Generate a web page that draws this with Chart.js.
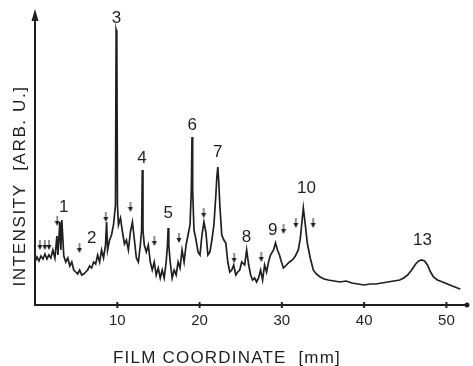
<!DOCTYPE html>
<html>
<head>
<meta charset="utf-8">
<script src="https://cdn.jsdelivr.net/npm/chart.js@4/dist/chart.umd.min.js"></script>
<style>
  html, body { margin: 0; padding: 0; background: #fff; }
  #wrap { width: 473px; height: 366px; position: relative; }
</style>
</head>
<body>
<div id="wrap"><canvas id="chart"></canvas></div>
<script>
// film coordinate (mm) of each trace sample
const filmMm = [
  0.00, 0.24, 0.48, 0.72, 0.97, 1.21, 1.45, 1.69, 1.93, 2.17, 2.42, 2.66, 2.78, 3.02, 3.14, 3.26, 3.50, 3.74, 3.99,
  4.23, 4.47, 4.71, 4.95, 5.19, 5.43, 5.68, 5.92, 6.16, 6.40, 6.64, 6.88, 7.13, 7.37, 7.61, 7.85, 8.09, 8.33,
  8.57, 8.70, 8.82, 9.06, 9.30, 9.54, 9.78, 9.86, 9.94, 10.02, 10.14, 10.39, 10.63, 10.87, 11.11, 11.35, 11.59, 11.84,
  12.08, 12.32, 12.56, 12.80, 12.96, 13.04, 13.12, 13.28, 13.53, 13.77, 14.01, 14.25, 14.49, 14.73, 14.98, 15.22, 15.46, 15.70,
  15.94, 16.10, 16.18, 16.26, 16.43, 16.67, 16.91, 17.15, 17.39, 17.63, 17.87, 18.12, 18.36, 18.60, 18.84, 19.00, 19.08, 19.16, 19.32, 19.57,
  19.81, 20.05, 20.29, 20.53, 20.77, 21.01, 21.26, 21.50, 21.74, 21.98, 22.10, 22.22, 22.34, 22.46, 22.70, 22.95, 23.19, 23.43,
  23.67, 23.91, 24.15, 24.40, 24.64, 24.88, 25.12, 25.48, 25.72, 25.97, 26.21, 26.45, 26.69, 26.93, 27.17, 27.42,
  27.66, 27.90, 28.14, 28.38, 28.62, 28.99, 29.23, 29.47, 29.71, 29.95, 30.19, 30.56, 30.92, 31.28, 31.64, 32.00,
  32.25, 32.61, 32.85, 33.09, 33.45, 33.82, 34.18, 34.66, 35.14, 35.63, 36.35, 37.08, 37.80, 38.53, 39.25, 39.98,
  40.70, 41.43, 42.15, 42.87, 43.60, 44.32, 44.81, 45.29, 45.77, 46.26, 46.62, 46.98, 47.34, 47.70, 48.07, 48.43,
  48.91, 49.52, 50.12, 50.72, 51.33, 51.69
];
// intensity (arbitrary units) at each sample
const intensity = [
  43, 48, 44, 49, 46, 51, 46, 50, 47, 55, 47, 69, 50, 83, 55, 85, 49, 43, 47,
  39, 43, 35, 33, 31, 35, 30, 31, 33, 35, 39, 37, 43, 41, 50, 43, 55, 47,
  60, 83, 55, 65, 70, 80, 100, 275, 272, 100, 80, 87, 73, 61, 65, 55, 73, 83,
  65, 47, 43, 60, 75, 135, 75, 60, 53, 60, 43, 35, 43, 30, 37, 27, 35, 27,
  43, 60, 77, 60, 43, 27, 35, 30, 43, 37, 55, 43, 60, 70, 80, 115, 168, 115, 75, 65,
  53, 50, 70, 83, 73, 50, 53, 65, 80, 110, 128, 138, 122, 100, 70, 65, 62, 43,
  33, 35, 40, 30, 33, 35, 43, 40, 55, 40, 30, 25, 27, 23, 27, 35,
  25, 40, 33, 43, 50, 55, 62, 55, 50, 43, 37, 40, 43, 45, 49, 55,
  67, 97, 80, 62, 47, 35, 31, 28, 26, 25, 24, 23, 24, 22, 21, 20,
  21, 21, 22, 23, 24, 25, 27, 30, 35, 41, 44, 45, 44, 40, 33, 28,
  25, 23, 21, 19, 17, 16
];

// reflection numbers and where they are written
const peakLabels = ['1', '2', '3', '4', '5', '6', '7', '8', '9', '10', '13'];
const peakLabelMm = [3.5, 6.9, 9.9, 13.0, 16.2, 19.1, 22.2, 25.7, 28.9, 33.0, 47.1];
const peakLabelY = [98, 67, 287, 147, 92, 180, 153, 68, 75, 117, 65];

// small arrow marks drawn over the trace
const arrowMm = [0.6, 1.2, 1.7, 2.7, 5.4, 8.6, 11.6, 14.5, 17.5, 20.5, 24.2, 27.5, 30.2, 31.7, 33.8];
const arrowY = [60, 60, 60, 84, 57, 88, 98, 64, 67, 92, 47, 48, 76, 82, 82];

const xTicks = [10, 20, 30, 40, 50];

const INK = '#1f1f1f';
const FONT = '"Liberation Sans", Arial, sans-serif';

function arrowImage() {
  const c = document.createElement('canvas');
  c.width = 6; c.height = 10;
  const g = c.getContext('2d');
  g.strokeStyle = INK; g.fillStyle = INK; g.lineWidth = 1;
  g.beginPath(); g.moveTo(3, 0); g.lineTo(3, 6); g.stroke();
  g.beginPath(); g.moveTo(0.5, 5); g.lineTo(5.5, 5); g.lineTo(3, 10); g.closePath(); g.fill();
  return c;
}

const annotate = {
  id: 'annotate',
  afterDraw(chart) {
    const { ctx, chartArea: a, scales: { x, y } } = chart;
    ctx.save();
    ctx.strokeStyle = INK;
    ctx.fillStyle = INK;
    ctx.lineWidth = 2;
    // axes
    ctx.beginPath();
    ctx.moveTo(a.left, a.top + 6);
    ctx.lineTo(a.left, a.bottom);
    ctx.lineTo(a.right, a.bottom);
    ctx.stroke();
    // arrow head on y axis
    ctx.beginPath();
    ctx.moveTo(a.left, a.top - 3);
    ctx.lineTo(a.left - 3.5, a.top + 9);
    ctx.lineTo(a.left + 3.5, a.top + 9);
    ctx.closePath();
    ctx.fill();
    // end dot on x axis
    ctx.beginPath();
    ctx.arc(a.right, a.bottom, 2.5, 0, Math.PI * 2);
    ctx.fill();
    // ticks and labels
    ctx.font = '15px ' + FONT;
    ctx.textAlign = 'center';
    ctx.textBaseline = 'middle';
    xTicks.forEach(t => {
      const px = x.getPixelForValue(t);
      ctx.beginPath();
      ctx.moveTo(px, a.bottom - 3);
      ctx.lineTo(px, a.bottom + 3);
      ctx.stroke();
      ctx.fillText(String(t), px, a.bottom + 16);
    });
    // axis titles
    ctx.font = '17px ' + FONT;
    ctx.letterSpacing = '1.2px';
    ctx.fillText('FILM COORDINATE  [mm]', 227, 358);
    ctx.save();
    ctx.translate(20, 186);
    ctx.rotate(-Math.PI / 2);
    ctx.letterSpacing = '1.6px';
    ctx.fillText('INTENSITY  [ARB. U.]', 0, 0);
    ctx.restore();
    ctx.letterSpacing = '0px';
    // peak numbers
    ctx.font = '17px ' + FONT;
    peakLabels.forEach((t, i) => {
      ctx.fillText(t, x.getPixelForValue(peakLabelMm[i]), y.getPixelForValue(peakLabelY[i]));
    });
    ctx.restore();
  }
};

new Chart(document.getElementById('chart'), {
  type: 'line',
  data: {
    datasets: [{
      data: filmMm.map((v, i) => ({ x: v, y: intensity[i] })),
      borderColor: INK,
      borderWidth: 1.7,
      pointRadius: 0,
      tension: 0,
      fill: false
    }, {
      type: 'scatter',
      data: arrowMm.map((v, i) => ({ x: v, y: arrowY[i] })),
      pointStyle: arrowImage(),
      pointRadius: 5
    }]
  },
  plugins: [annotate],
  options: {
    responsive: true,
    maintainAspectRatio: false,
    animation: false,
    layout: { padding: { left: 35, right: 3, top: 12, bottom: 61 } },
    plugins: { legend: { display: false }, tooltip: { enabled: false } },
    scales: {
      x: { type: 'linear', min: 0, max: 52.5, display: false },
      y: { min: 0, max: 293, display: false }
    }
  }
});
</script>
</body>
</html>
